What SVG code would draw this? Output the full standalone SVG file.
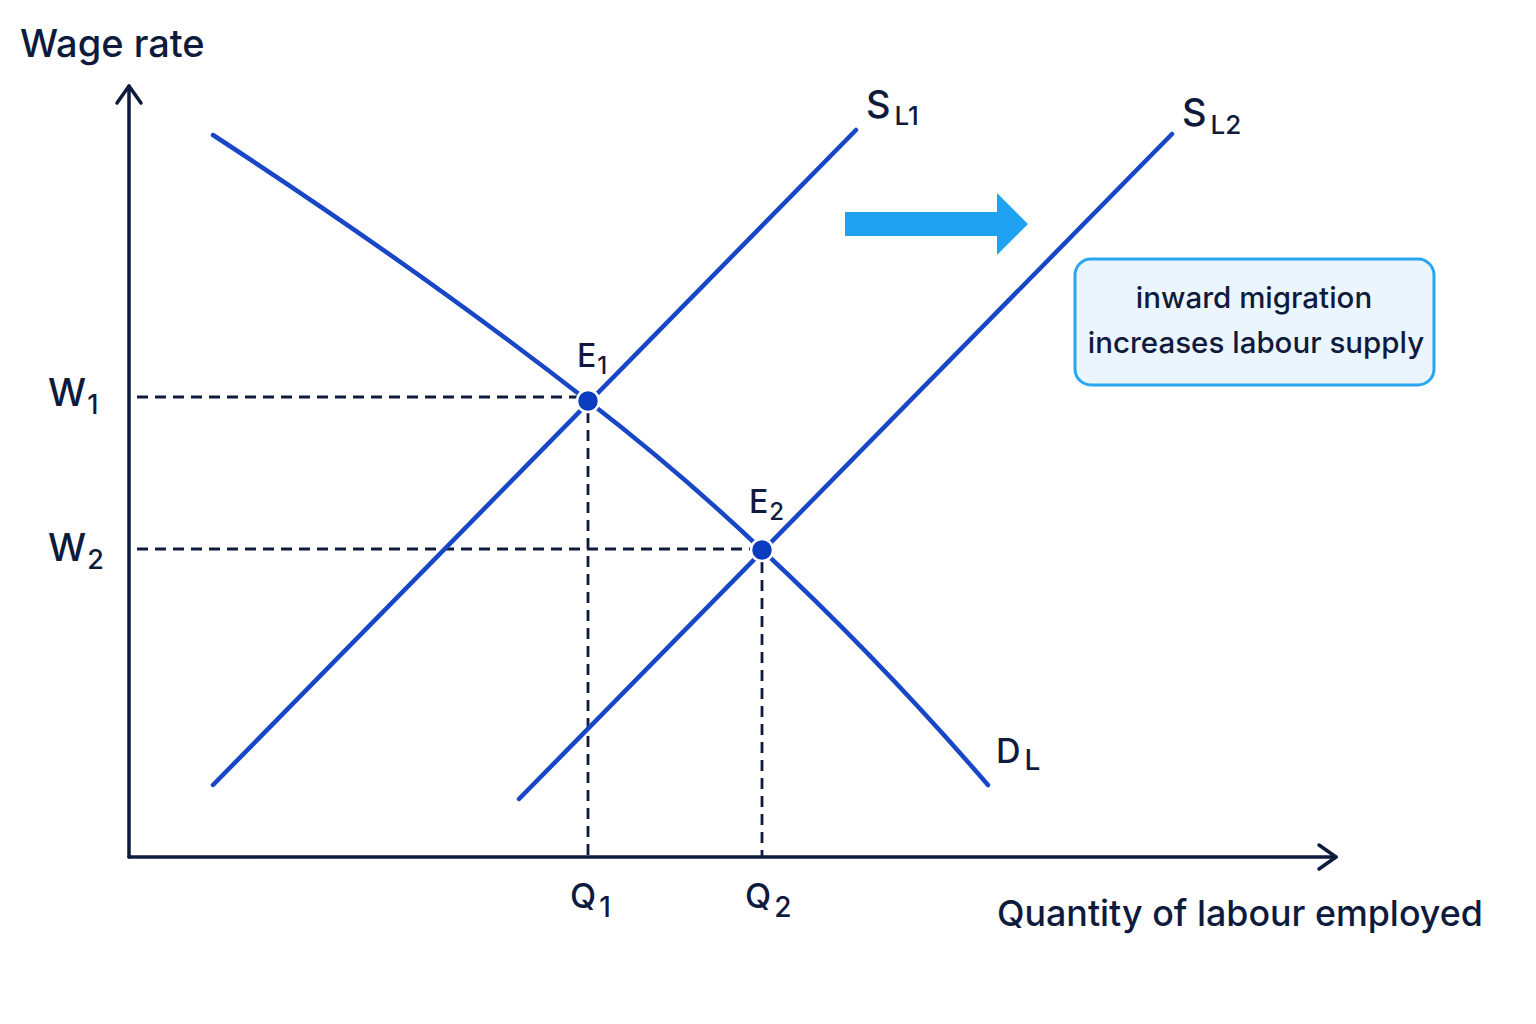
<svg xmlns="http://www.w3.org/2000/svg" width="1536" height="1024" viewBox="0 0 1536 1024">
<style>
.t{font-family:Inter,"Noto Sans","Liberation Sans",sans-serif;fill:#0f1b3d;font-weight:500}
.ax{stroke:#0f1b3d;stroke-width:3.5;fill:none;stroke-linecap:round;stroke-linejoin:round}
.cv{stroke:#1746c6;stroke-width:4.5;fill:none;stroke-linecap:round}
.ds{stroke:#0f1b3d;stroke-width:2.8;fill:none;stroke-dasharray:11 7}
.dot{fill:#0b3bbf;stroke:#ffffff;stroke-width:2.5}
</style>
<rect width="1536" height="1024" fill="#ffffff"/>
<g id="axes">
<line class="ax" x1="129" y1="857" x2="129" y2="86"/>
<polyline class="ax" points="117,103 129,86 141,103"/>
<line class="ax" x1="129" y1="857" x2="1336" y2="857"/>
<polyline class="ax" points="1319,845 1336,857 1319,869"/>
<text id="y-label" class="t" x="20" y="57" font-size="38">Wage rate</text>
<text id="x-label" class="t" x="997" y="926" font-size="35.8">Quantity of labour employed</text>
</g>
<g id="guides">
<line class="ds" x1="137" y1="397" x2="578" y2="397"/>
<line class="ds" x1="588" y1="412" x2="588" y2="857"/>
<line class="ds" x1="137" y1="549" x2="750" y2="549"/>
<line class="ds" x1="762" y1="562" x2="762" y2="857"/>
</g>
<g id="connectors">
<path id="DL" class="cv" d="M213,135 Q420,270 588,401 Q680,472 762,550 Q880,660 988,785"/>
<line id="SL1" class="cv" x1="213" y1="785" x2="856" y2="130"/>
<line id="SL2" class="cv" x1="519" y1="799" x2="1172" y2="134"/>
</g>
<g id="E1">
<circle class="dot" cx="588" cy="401" r="11"/>
<text class="t" x="577" y="367" font-size="32">E<tspan font-size="24" dx="1" dy="7">1</tspan></text>
</g>
<g id="E2">
<circle class="dot" cx="762" cy="550" r="11"/>
<text class="t" x="749" y="513" font-size="32">E<tspan font-size="24" dx="1" dy="7">2</tspan></text>
</g>
<g id="labels">
<text class="t" x="48" y="406" font-size="38">W<tspan font-size="27" dx="1" dy="8">1</tspan></text>
<text class="t" x="48" y="561" font-size="38">W<tspan font-size="27" dx="1" dy="8">2</tspan></text>
<text class="t" x="570" y="908" font-size="34">Q<tspan font-size="28" dx="3" dy="9">1</tspan></text>
<text class="t" x="745" y="908" font-size="34">Q<tspan font-size="28" dx="3" dy="9">2</tspan></text>
<text class="t" x="996" y="763" font-size="34">D<tspan font-size="28" dx="4" dy="7">L</tspan></text>
<text class="t" x="866" y="118" font-size="38">S<tspan font-size="26" dx="4" dy="7">L1</tspan></text>
<text class="t" x="1182" y="126" font-size="38">S<tspan font-size="26" dx="4" dy="8">L2</tspan></text>
</g>
<g id="shift-arrow">
<polygon fill="#1fa2f1" points="845,212 997,212 997,193 1028,224 997,255 997,236 845,236"/>
</g>
<g id="note">
<rect x="1075" y="259" width="359" height="126" rx="16" fill="#ebf5fd" stroke="#29a6f2" stroke-width="3"/>
<text class="t" x="1254" y="308" font-size="29.5" text-anchor="middle">inward migration</text>
<text class="t" x="1256" y="353" font-size="29.5" text-anchor="middle">increases labour supply</text>
</g>
</svg>
